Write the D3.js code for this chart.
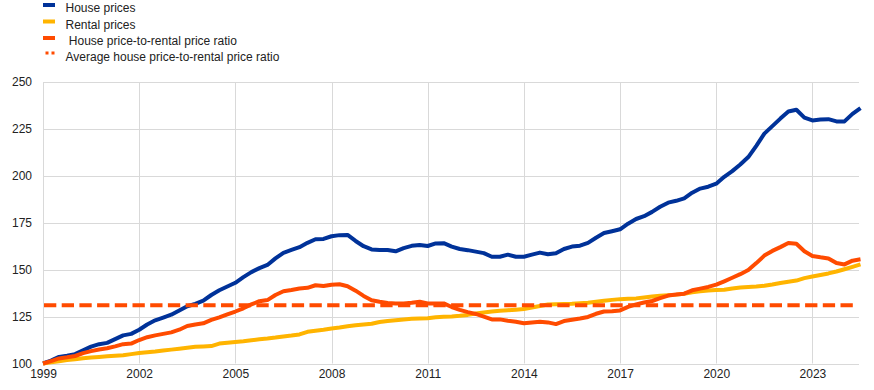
<!DOCTYPE html>
<html>
<head>
<meta charset="utf-8">
<script src="https://cdn.jsdelivr.net/npm/d3@7"></script>
<style>
  html, body { margin: 0; padding: 0; background: #fff; }
  svg { display: block; }
  text { font-family: "Liberation Sans", Arial, sans-serif; font-size: 12px; fill: #222; }
</style>
</head>
<body>
<svg id="chart" width="874" height="390"></svg>
<script>
// ---- Data (quarterly, starting 1999 Q1) ----
const startYear = 1999;
const seriesNames = ["House prices", "Rental prices", " House price-to-rental price ratio", "Average house price-to-rental price ratio"];
const housePrices = [
  100, 101.5, 103.5, 104.2, 105, 107, 109, 110.3, 111, 113, 115, 115.8,
  118, 120.8, 123, 124.5, 126, 128.3, 130.5, 131.8, 133.5, 136.5, 139, 141,
  143, 146, 148.7, 150.8, 152.5, 156, 159, 160.5, 162, 164.3, 166.2, 166.4,
  167.8, 168.4, 168.5, 165.3, 162.5, 160.8, 160.5, 160.5, 159.8, 161.5, 162.7, 163.2,
  162.6, 164, 164.1, 162.3, 161, 160.4, 159.6, 158.8, 156.9, 156.9, 158, 156.9,
  156.9, 158, 159.1, 158.2, 158.7, 161, 162.3, 162.8, 164.3, 167, 169.5, 170.5,
  171.5, 174.5, 177, 178.5, 180.8, 183.5, 185.7, 186.7, 188, 191, 193.2, 194.2,
  195.8, 199.5, 202.5, 206, 210, 216, 222.5, 226.5, 230.5, 234.3, 235.2, 231,
  229.5, 230, 230.2, 229, 229, 233, 236.1
];
const rentalPrices = [
  100, 100.6, 101.2, 101.8, 102.3, 102.8, 103.2, 103.5, 103.8, 104.1, 104.4, 105,
  105.6, 106, 106.4, 106.9, 107.4, 107.9, 108.4, 108.9, 109.1, 109.3, 110.6, 111.1,
  111.5, 111.9, 112.4, 112.9, 113.3, 113.8, 114.4, 114.9, 115.5, 116.9, 117.5, 118,
  118.7, 119.2, 119.8, 120.4, 120.8, 121.2, 122.1, 122.7, 123.1, 123.5, 123.8, 124,
  124.1, 124.6, 124.9, 125.1, 125.4, 125.9, 126.6, 127.2, 127.7, 128.1, 128.4, 128.7,
  129, 129.8, 130.6, 131.4, 131.6, 131.7, 131.8, 132.1, 132.4, 132.9, 133.4, 133.9,
  134.3, 134.5, 134.7, 135.2, 135.7, 136.1, 136.4, 136.7, 137.2, 137.9, 138.5, 138.9,
  139.1, 139.3, 140, 140.5, 140.8, 141, 141.4, 142.1, 142.9, 143.6, 144.2, 145.5,
  146.4, 147.2, 148, 149, 150.2, 151.5, 152.8
];
const priceToRentRatio = [
  100, 101.3, 102.7, 103.3, 104, 105.5, 106.6, 107.5, 108.1, 109.1, 110.3, 110.6,
  112.5, 114, 115, 115.8, 116.6, 118, 120, 120.8, 121.4, 123.2, 124.6, 126.2,
  127.7, 129.4, 131.5, 133.2, 133.8, 136.5, 138.5, 139.2, 140, 140.3, 141.7, 141.3,
  142, 142.2, 141.2, 138.8, 136, 133.7, 132.9, 132.3, 132, 132, 132.4, 132.9,
  132, 132, 132, 130.1, 128.6, 127.4, 126.4, 125, 123.5, 123.5, 122.8, 122.2,
  121.4, 121.9, 122.2, 121.9, 121, 122.6, 123.3, 124, 124.8, 126.5, 127.7, 127.9,
  128.3, 130.2, 131.5, 132.5, 133.3, 134.8, 136.2, 136.8, 137.2, 139, 139.9, 140.8,
  142, 143.8, 145.7, 147.6, 149.8, 153.5, 157.5, 160, 162, 164.2, 163.8, 159.8,
  157.3, 156.6, 156, 153.5, 152.8, 154.8, 155.5
];
const averageRatio = 131;
const yTicks = [100, 125, 150, 175, 200, 225, 250];
const xTicks = [1999, 2002, 2005, 2008, 2011, 2014, 2017, 2020, 2023];
const colors = ["#003299", "#FFB400", "#FF4B00", "#FF4B00"];

// dates for each quarterly observation
const dates = housePrices.map((_, i) => startYear + i * 0.25);

const svg = d3.select("#chart");
const mLeft = 43, mRight = 859, mTop = 82, mBottom = 363.5;

const x = d3.scaleLinear().domain([startYear, dates[dates.length - 1]]).range([mLeft, mRight + 1.5]);
const y = d3.scaleLinear().domain([100, 250]).range([mBottom, mTop]);

// gridlines
const grid = svg.append("g");
grid.selectAll("line.h").data(yTicks).enter().append("line")
  .attr("x1", mLeft).attr("x2", mRight)
  .attr("y1", d => Math.round(y(d)) + 0.5).attr("y2", d => Math.round(y(d)) + 0.5)
  .attr("stroke", "#d9d9d9").attr("stroke-width", 1);
grid.selectAll("line.v").data(xTicks).enter().append("line")
  .attr("x1", d => Math.round(x(d)) + 0.5).attr("x2", d => Math.round(x(d)) + 0.5)
  .attr("y1", mTop).attr("y2", mBottom)
  .attr("stroke", "#d9d9d9").attr("stroke-width", 1);

// axes (labels only)
const yAxis = d3.axisLeft(y).tickValues(yTicks).tickSize(0).tickPadding(0).tickFormat(d3.format("d"));
const gy = svg.append("g").attr("transform", `translate(${mLeft - 11},0)`).call(yAxis);
gy.select(".domain").remove();
gy.selectAll("text").attr("font-size", 12).attr("font-family", null).attr("fill", "#222");

const xAxis = d3.axisBottom(x).tickValues(xTicks).tickSize(0).tickPadding(0).tickFormat(d3.format("d"));
const gx = svg.append("g").attr("transform", `translate(0,${mBottom + 6})`).call(xAxis);
gx.select(".domain").remove();
gx.selectAll("text").attr("font-size", 12).attr("font-family", null).attr("fill", "#222");

// lines
const line = d3.line().x((d, i) => x(dates[i])).y(d => y(d));
const seriesData = [housePrices, rentalPrices, priceToRentRatio];
seriesData.forEach((s, k) => {
  svg.append("path").datum(s)
    .attr("d", line)
    .attr("fill", "none")
    .attr("stroke", colors[k])
    .attr("stroke-width", 4)
    .attr("stroke-linejoin", "round");
});

// average ratio dashed line
svg.append("line")
  .attr("x1", x(startYear) + 1).attr("x2", mRight - 2)
  .attr("y1", y(averageRatio)).attr("y2", y(averageRatio))
  .attr("stroke", colors[3]).attr("stroke-width", 4)
  .attr("stroke-dasharray", "12.3,5.4");

// legend
const legend = svg.append("g");
const rowsY = [8, 24.5, 41, 57];
seriesNames.forEach((name, k) => {
  const g = legend.append("g").attr("transform", `translate(0,${rowsY[k]})`);
  if (k < 3) {
    g.append("line").attr("x1", 43).attr("x2", 55).attr("y1", -3).attr("y2", -3)
      .attr("stroke", colors[k]).attr("stroke-width", 4);
  } else {
    g.append("line").attr("x1", 45.5).attr("x2", 54.5).attr("y1", -4).attr("y2", -4)
      .attr("stroke", colors[k]).attr("stroke-width", 3)
      .attr("stroke-dasharray", "3,3");
  }
  g.append("text").attr("x", 65.5).attr("y", 0).attr("dy", "0.35em").text(name)
    .style("white-space", "pre");
});
</script>
</body>
</html>
